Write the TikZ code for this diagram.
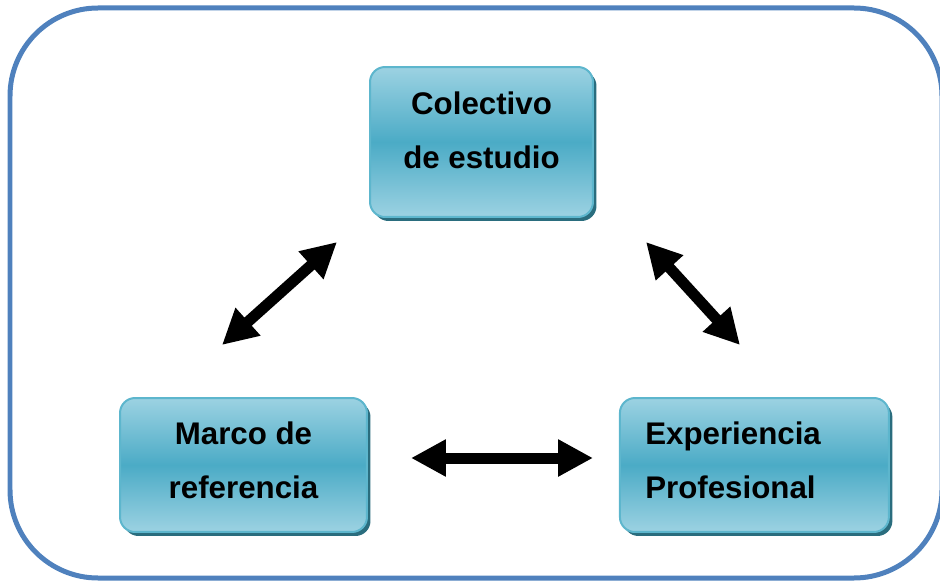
\documentclass[tikz,border=0pt]{standalone}
\usepackage{fontspec}
\setmainfont{Liberation Sans}
\usepackage{tikz}
\usetikzlibrary{arrows.meta,positioning,shadows}
\definecolor{marcoazul}{HTML}{4F81BD}
\definecolor{cajaclara}{HTML}{9CD2E2}
\definecolor{cajamedia}{HTML}{4BABC6}
\definecolor{cajaborde}{HTML}{5DB6CD}
\definecolor{cajasombra}{HTML}{2A6D7E}

\begin{document}
\begin{tikzpicture}
			[x=0.02cm, y=-0.02cm, inner sep=0pt,
			marco/.style		= {draw=marcoazul, line width=0.1cm, rounded corners=1.76cm},
			caja/.style			= {draw=cajaborde, line width=0.04cm, rectangle, rounded corners=0.3cm,
								   top color=cajaclara, bottom color=cajaclara, middle color=cajamedia,
								   drop shadow={shadow xshift=0.07cm, shadow yshift=-0.08cm, fill=cajasombra, opacity=1},
								   minimum height=2.68cm},
			texto/.style		= {font=\fontsize{17.8}{30.7}\selectfont\bfseries, text=black},
			flecha/.style		= {line width=0.22cm, {Triangle[length=0.7cm, width=0.7cm]}-{Triangle[length=0.7cm, width=0.7cm]}}]
			
			\useasboundingbox (0,0) rectangle (940,581);
			\draw [marco] (10,8) rectangle (942,578);
			
			\node [caja, minimum width=4.46cm, minimum height=3cm]	at (481.5,142)	(colectivo)		{};
			\node [caja, minimum width=4.94cm]	at (243.5,465)						(marcoref)		{};
			\node [caja, minimum width=5.38cm]	[right = 5.02cm of marcoref]		(experiencia)	{};
			
			\node [texto, align=center]	at ([yshift=0.24cm]colectivo.center)	(colectivo-txt)		{Colectivo\\de estudio};
			\node [texto, align=center]	at ([yshift=0.1cm]marcoref.center)		(marcoref-txt)		{Marco de\\referencia};
			\node [texto, align=left, anchor=west]	at ([xshift=0.52cm, yshift=0.1cm]experiencia.west)	(experiencia-txt)	{Experiencia\\Profesional};
			
			% puntas de las flechas
			\coordinate (izq-a) at (222,345);
			\coordinate (izq-b) at (337,242);
			\coordinate (der-a) at (646,242);
			\coordinate (der-b) at (740,345);
			\coordinate (abj-a) at (411,458);
			\coordinate (abj-b) at (593,458);
			
			\draw [flecha] (izq-a) -- (izq-b);
			\draw [flecha] (der-a) -- (der-b);
			\draw [flecha] (abj-a) -- (abj-b);
			\end{tikzpicture}
\end{document}
